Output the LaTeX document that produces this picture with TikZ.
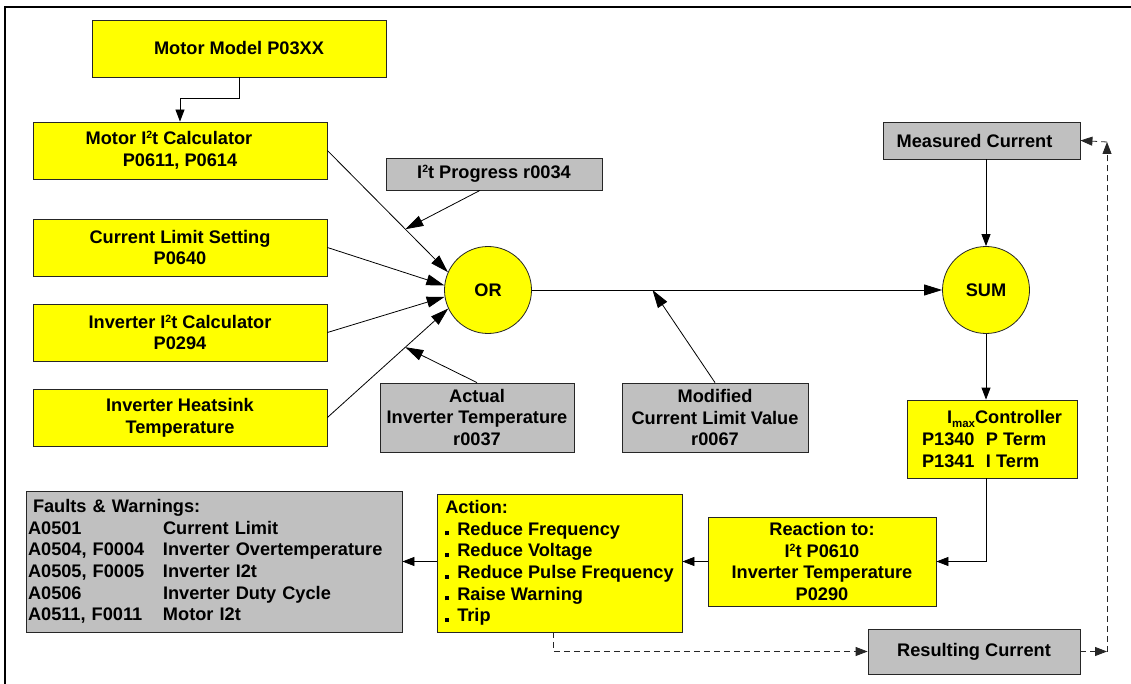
\documentclass[tikz,border=0pt]{standalone}
\usepackage{fontspec}
\setmainfont{Liberation Sans}
\usetikzlibrary{arrows.meta,calc}
\definecolor{boxyellow}{RGB}{255,255,0}
\definecolor{boxgray}{RGB}{192,192,192}
\newcommand\isq{\raisebox{6pt}{\fontsize{10.5}{10}\selectfont 2}}
\newcommand\bul{\rule{4pt}{4pt}\hspace{8pt}}
\begin{document}
\begin{tikzpicture}[x=1pt,y=-1pt,
  base/.style={draw=black!85, line width=0.8pt, inner sep=0pt, align=center,
    font=\bfseries\fontsize{18.2}{21.7}\selectfont, text=black},
  ybox/.style={base, rectangle, fill=boxyellow},
  gbox/.style={base, rectangle, fill=boxgray},
  ycirc/.style={base, circle, fill=boxyellow, minimum size=87pt},
  conn/.style={draw=black, line width=0.8pt},
  big/.style={conn, -{Triangle[length=18pt,width=11pt]}},
  small/.style={conn, -{Triangle[length=12pt,width=9pt]}},
  dsmall/.style={small, draw=black!85, dash pattern=on 6pt off 4pt}]
\useasboundingbox (0,0) rectangle (1131,684);
\draw[line width=2pt] (5,684) -- (5,7) -- (1131,7);

% nodes
\node[ybox, minimum width=294pt, minimum height=57pt] (mm) at (239,48.5) {Motor Model P03XX};
\node[ybox, minimum width=294pt, minimum height=57pt] (mi) at (180,150.5) {Motor I\isq t Calculator\hspace*{22pt}\\P0611, P0614};
\node[ybox, minimum width=294pt, minimum height=57pt] (cl) at (180,247.5) {Current Limit Setting\\P0640};
\node[ybox, minimum width=294pt, minimum height=57pt] (ii) at (180,332.5) {Inverter I\isq t Calculator\\P0294};
\node[ybox, minimum width=294pt, minimum height=57pt] (ih) at (180,417.5) {Inverter Heatsink\\Temperature};
\node[gbox, minimum width=216pt, minimum height=32pt] (pr) at (494,174) {I\isq t Progress r0034};
\node[ycirc] (or) at (488,290) {OR};
\node[gbox, minimum width=194pt, minimum height=69pt] (at) at (477,417.5) {Actual\\Inverter Temperature\\r0037};
\node[gbox, minimum width=186pt, minimum height=69pt] (md) at (715,417.5) {Modified\\Current Limit Value\\r0067};
\node[ycirc] (sum) at (986,290) {SUM};
\node[gbox, minimum width=197pt, minimum height=37pt] (mc) at (981.5,140.5) {Measured Current\hspace*{14pt}};
\node[ybox, minimum width=170pt, minimum height=78pt, align=left] (im) at (992,439)
  {\hspace*{25pt}I\raisebox{-4pt}{\fontsize{11.5}{12}\selectfont max}Controller\\
   \makebox[64pt][l]{P1340}P Term\\
   \makebox[64pt][l]{P1341}I Term};
\node[ybox, minimum width=228pt, minimum height=89pt] (re) at (822,561.5)
  {Reaction to:\\I\isq t P0610\\Inverter Temperature\\P0290};
\node[ybox, minimum width=245pt, minimum height=138pt, align=left] (ac) at (559.5,563)
  {Action:\\\bul Reduce Frequency\\\bul Reduce Voltage\\\bul Reduce Pulse Frequency\\\bul Raise Warning\\\bul Trip};
\node[gbox, minimum width=376pt, minimum height=141pt, text width=372pt, align=left] (fw) at (214,561.5)
  {\hspace*{5pt}Faults \& Warnings:\\
   \makebox[135pt][l]{A0501}Current Limit\\
   \makebox[135pt][l]{A0504, F0004}Inverter Overtemperature\\
   \makebox[135pt][l]{A0505, F0005}Inverter I2t\\
   \makebox[135pt][l]{A0506}Inverter Duty Cycle\\
   \makebox[135pt][l]{A0511, F0011}Motor I2t};
\node[gbox, minimum width=212pt, minimum height=45pt] (rc) at (974,651.5) {Resulting Current};

% helper coordinates
\coordinate (p1) at ($(mi.east)!0.647!(or.156)$);
\coordinate (p2) at ($(ih.east)!0.645!(or.205)$);
\coordinate (p3) at ($(or.east)!0.294!(sum.west)$);
\coordinate (c1) at (1107,651.5);
\coordinate (c2) at (1107,142);

% connectors
\draw[small] (mm.south) -- ++(0,21) -| (mi.north);
\draw[big] (mi.east) -- (or.156);
\draw[big] ([xshift=-14pt]pr.south) -- (p1);
\draw[big] (cl.east) -- (or.174);
\draw[big] (ii.east) -- (or.189);
\draw[big] (ih.east) -- (or.205);
\draw[big] (at.north) -- (p2);
\draw[big] (or.east) -- (sum.west);
\draw[big] (md.north) -- (p3);
\draw[small] (mc.south -| sum.north) -- (sum.north);
\draw[small] (sum.south) -- (sum.south |- im.north);
\draw[small] (sum.south |- im.south) |- (re.east);
\draw[small] (re.west) -- (re.west -| ac.east);
\draw[small] (ac.west |- re.west) -- (fw.east |- re.west);
\draw[dsmall] ([xshift=-6.5pt]ac.south) |- (rc.west);
\draw[dsmall] (rc.east) -- (c1);
\draw[dsmall] (c1) -- (c2);
\draw[dsmall] (c2) -- (mc.east);
\end{tikzpicture}
\end{document}
